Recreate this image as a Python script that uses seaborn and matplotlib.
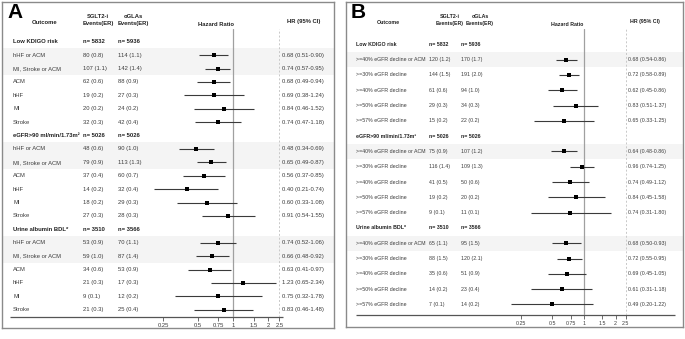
import matplotlib.pyplot as plt
import matplotlib.ticker as mticker
import seaborn as sns
import pandas as pd

# ---- data ----
groups = ["Low KDIGO risk", "eGFR>90 ml/min/1.73m\u00b2", "Urine albumin BDL*"]
n_sglt2 = [5832, 5026, 3510]
n_oglas = [5936, 5026, 3566]

outcomes_a = ["hHF or ACM", "MI, Stroke or ACM", "ACM", "hHF", "MI", "Stroke"]
sglt2_ev_a = [80, 107, 62, 19, 20, 32, 48, 79, 37, 14, 18, 27, 53, 59, 34, 21, 9, 21]
sglt2_er_a = [0.8, 1.1, 0.6, 0.2, 0.2, 0.3, 0.6, 0.9, 0.4, 0.2, 0.2, 0.3, 0.9, 1.0, 0.6, 0.3, 0.1, 0.3]
oglas_ev_a = [114, 142, 88, 27, 24, 42, 90, 113, 60, 32, 29, 28, 70, 87, 53, 17, 12, 25]
oglas_er_a = [1.1, 1.4, 0.9, 0.3, 0.2, 0.4, 1.0, 1.3, 0.7, 0.4, 0.3, 0.3, 1.1, 1.4, 0.9, 0.3, 0.2, 0.4]
hr_a = [0.68, 0.74, 0.68, 0.69, 0.84, 0.74, 0.48, 0.65, 0.56, 0.40, 0.60, 0.91, 0.74, 0.66, 0.63, 1.23, 0.75, 0.83]
lo_a = [0.51, 0.57, 0.49, 0.38, 0.46, 0.47, 0.34, 0.49, 0.37, 0.21, 0.33, 0.54, 0.52, 0.48, 0.41, 0.65, 0.32, 0.46]
hi_a = [0.90, 0.95, 0.94, 1.24, 1.52, 1.18, 0.69, 0.87, 0.85, 0.74, 1.08, 1.55, 1.06, 0.92, 0.97, 2.34, 1.78, 1.48]

outcomes_b = [">=40% eGFR decline or ACM", ">=30% eGFR decline", ">=40% eGFR decline",
              ">=50% eGFR decline", ">=57% eGFR decline"]
sglt2_ev_b = [120, 144, 61, 29, 15, 75, 116, 41, 19, 9, 65, 88, 35, 14, 7]
sglt2_er_b = [1.2, 1.5, 0.6, 0.3, 0.2, 0.9, 1.4, 0.5, 0.2, 0.1, 1.1, 1.5, 0.6, 0.2, 0.1]
oglas_ev_b = [170, 191, 94, 34, 22, 107, 109, 50, 20, 11, 95, 120, 51, 23, 14]
oglas_er_b = [1.7, 2.0, 1.0, 0.3, 0.2, 1.2, 1.3, 0.6, 0.2, 0.1, 1.5, 2.1, 0.9, 0.4, 0.2]
hr_b = [0.68, 0.72, 0.62, 0.83, 0.65, 0.64, 0.96, 0.74, 0.84, 0.74, 0.68, 0.72, 0.69, 0.61, 0.49]
lo_b = [0.54, 0.58, 0.45, 0.51, 0.33, 0.48, 0.74, 0.49, 0.45, 0.31, 0.50, 0.55, 0.45, 0.31, 0.20]
hi_b = [0.86, 0.89, 0.86, 1.37, 1.25, 0.86, 1.25, 1.12, 1.58, 1.80, 0.93, 0.95, 1.05, 1.18, 1.22]

ticks = [0.25, 0.5, 0.75, 1, 1.5, 2, 2.5]
tick_labels = ["0.25", "0.5", "0.75", "1", "1.5", "2", "2.5"]

sns.set_style("white")
plt.rcParams['font.family'] = ['Liberation Sans', 'DejaVu Sans']

W, H = 685, 339
fig = plt.figure(figsize=(W / 100, H / 100), dpi=100)
TXT = '#3c3c3c'


def px_axes(x0, y0, x1, y1):
    return fig.add_axes([x0 / W, 1 - y1 / H, (x1 - x0) / W, (y1 - y0) / H])


def row_lim(top_px, bot_px, row0, dy):
    return ((bot_px - row0) / dy, (top_px - row0) / dy)


def draw_panel(letter, lay, outcomes, ev1, er1, ev2, er2, hr, lo, hi, n_shade):
    k = len(outcomes)
    fs = lay['fs']
    rows = []
    for g in range(len(groups)):
        for j in range(k):
            rows.append(g * (k + 1) + 1 + j)
    df = pd.DataFrame({'row': rows, 'hr': hr, 'lo': lo, 'hi': hi})

    r0, dy = lay['row0'], lay['dy']
    fx0, fy0, fx1, fy1 = lay['frame']
    bg = px_axes(fx0, fy0, fx1, fy1)
    bg.set_xlim(fx0, fx1)
    bg.set_ylim(*row_lim(fy0, fy1, r0, dy))
    bg.set_xticks([])
    bg.set_yticks([])
    for s in bg.spines.values():
        s.set_color('#8a8a8a')
        s.set_linewidth(1.0)

    # shaded bands
    for g in range(len(groups)):
        for j in range(n_shade):
            r = g * (k + 1) + 1 + j
            bg.axhspan(r - 0.5, r + 0.5, color='#f4f4f4', lw=0, zorder=0)

    # headers
    def hy(px):
        return (px - r0) / dy
    bold = dict(fontsize=fs, fontweight='bold', ha='center', va='center', color='#222222')
    bg.text(lay['letter_x'], hy(13), letter, fontsize=15, fontweight='bold',
            ha='left', va='center', color='black')
    bg.text(lay['out_hdr'], hy(23), "Outcome", **bold)
    bg.text(lay['c1_hdr'], hy(16), "SGLT2-i", **bold)
    bg.text(lay['c1_hdr'], hy(24), "Events(ER)", **bold)
    bg.text(lay['c2_hdr'], hy(16), "oGLAs", **bold)
    bg.text(lay['c2_hdr'], hy(24), "Events(ER)", **bold)
    bg.text(lay['hz_hdr'], hy(24), "Hazard Ratio", **bold)
    bg.text(lay['ci_hdr'], hy(21), "HR (95% CI)", **bold)

    # table rows
    for g, name in enumerate(groups):
        r = g * (k + 1)
        bg.text(lay['out_x'], r, name, fontsize=fs, fontweight='bold', va='center', color='#222222')
        bg.text(lay['c1_x'], r, f"n= {n_sglt2[g]}", fontsize=fs, fontweight='bold', va='center', color='#222222')
        bg.text(lay['c2_x'], r, f"n= {n_oglas[g]}", fontsize=fs, fontweight='bold', va='center', color='#222222')
    for i, r in enumerate(rows):
        bg.text(lay['out_x'], r, outcomes[i % k], fontsize=fs, va='center', color=TXT)
        bg.text(lay['c1_x'], r, f"{ev1[i]} ({er1[i]:.1f})", fontsize=fs, va='center', color=TXT)
        bg.text(lay['c2_x'], r, f"{ev2[i]} ({er2[i]:.1f})", fontsize=fs, va='center', color=TXT)
        bg.text(lay['ci_x'], r, f"{hr[i]:.2f} ({lo[i]:.2f}-{hi[i]:.2f})", fontsize=fs, va='center', color=TXT)

    # long bottom rule under table and plot
    bg.hlines(hy(lay['axis_y']), lay['rule'][0], lay['rule'][1], color='#555555', lw=0.9)

    # forest axis
    ax = px_axes(lay['fx'][0], lay['top_y'], lay['fx'][1], lay['axis_y'])
    ax.patch.set_visible(False)
    ax.set_xscale('log')
    ax.set_xlim(*lay['xlim'])
    ax.set_ylim(*row_lim(lay['top_y'], lay['axis_y'], r0, dy))
    ax.axvline(1, color='#a0a0a0', lw=0.9, zorder=1)
    ax.axvline(2.5, color='#c8c8c8', lw=0.7, ls=(0, (2, 2)), zorder=1)
    ax.hlines(df['row'], df['lo'], df['hi'], color='#3a3a3a', lw=0.8, zorder=2)
    sns.scatterplot(data=df, x='hr', y='row', marker='s', color='black', s=11,
                    linewidth=0, legend=False, ax=ax, zorder=3)
    ax.set_xlabel('')
    ax.set_ylabel('')
    ax.set_yticks([])
    ax.set_xticks(ticks)
    ax.set_xticklabels(tick_labels)
    ax.xaxis.set_minor_locator(mticker.NullLocator())
    ax.tick_params(axis='x', length=3, width=0.6, color='#555555', labelsize=fs,
                   labelcolor=TXT, pad=1.5, bottom=True)
    for s in ax.spines.values():
        s.set_visible(False)


lay_a = dict(frame=(2, 2, 334, 328), row0=41.7, dy=13.4, letter_x=7, fs=4.2,
             out_x=13, c1_x=83, c2_x=118, ci_x=282,
             out_hdr=45, c1_hdr=98, c2_hdr=133, hz_hdr=216, ci_hdr=304,
             top_y=29, axis_y=317, rule=(10, 283),
             fx=(145, 283), xlim=(0.175, 2.69))
lay_b = dict(frame=(346, 2, 683, 327), row0=44.3, dy=15.3, letter_x=351, fs=3.8,
             out_x=356, c1_x=429, c2_x=461, ci_x=628,
             out_hdr=388, c1_hdr=450, c2_hdr=480, hz_hdr=567, ci_hdr=645,
             top_y=29, axis_y=315, rule=(356, 675),
             fx=(505, 630), xlim=(0.176, 2.75))

draw_panel("A", lay_a, outcomes_a, sglt2_ev_a, sglt2_er_a, oglas_ev_a, oglas_er_a,
           hr_a, lo_a, hi_a, 2)
draw_panel("B", lay_b, outcomes_b, sglt2_ev_b, sglt2_er_b, oglas_ev_b, oglas_er_b,
           hr_b, lo_b, hi_b, 1)

fig.savefig('out.png', dpi=100)
